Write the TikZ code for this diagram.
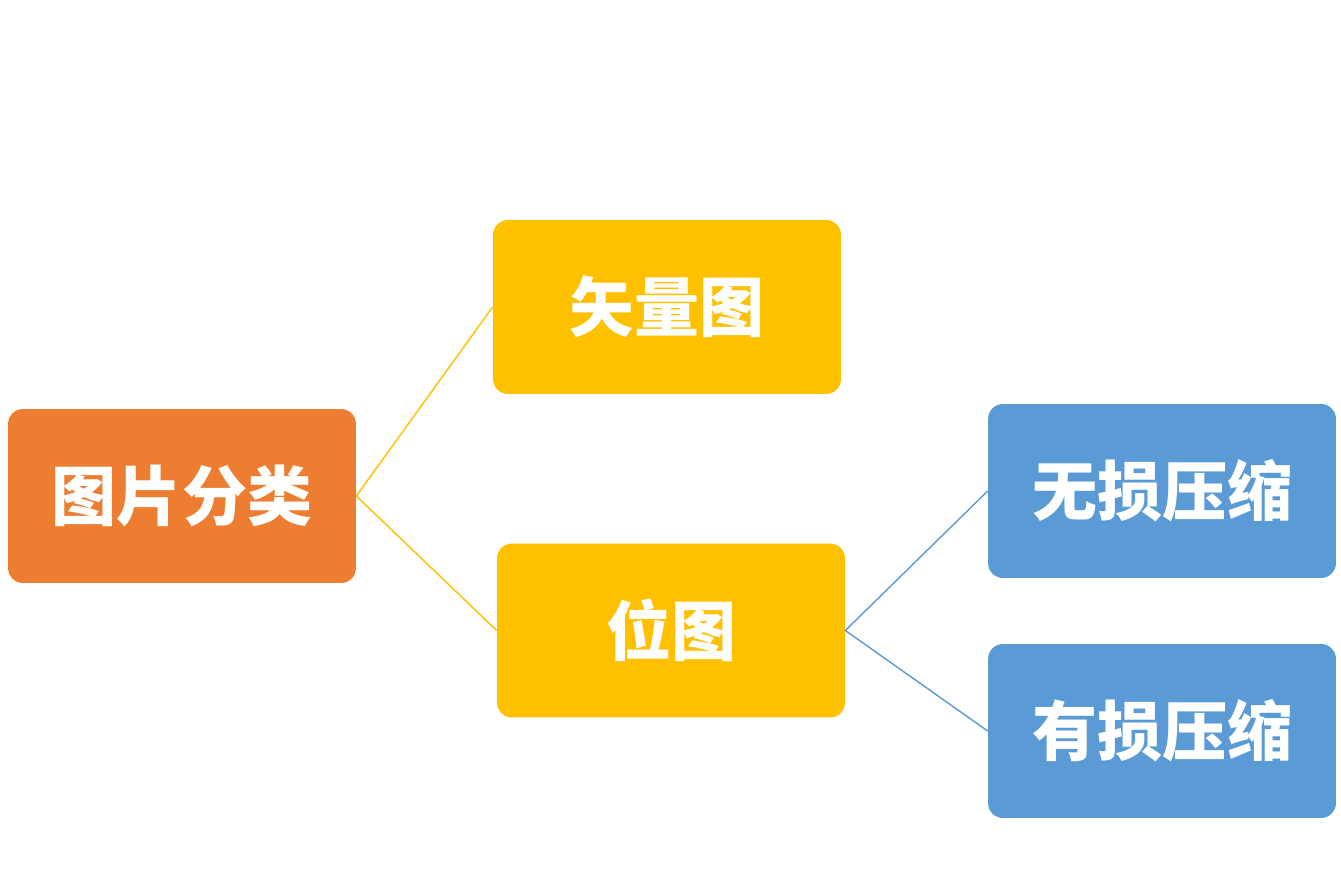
\documentclass[tikz,border=0pt]{standalone}
\usepackage{fontspec}
\newfontfamily\cjk{Noto Sans CJK SC}
\usepackage{tikz}
\definecolor{rootorange}{HTML}{ED7D31}
\definecolor{midgold}{HTML}{FFC000}
\definecolor{leafblue}{HTML}{5B9BD5}
\tikzset{
    catbox/.style={rounded corners=0.3cm, minimum width=6.96cm, minimum height=3.48cm,
        inner sep=0pt, text=white, font=\cjk\bfseries\fontsize{37}{44}\selectfont},
}
\begin{document}
\begin{tikzpicture}[x=0.02cm,y=-0.02cm]
        \useasboundingbox[fill=white] (0,0) rectangle (1341,889);
        % root
        \node[catbox, fill=rootorange] (root) at (182,496) {图片分类};
        % second level
        \node[catbox, fill=midgold] (vector) at (667,307) {矢量图};
        \node[catbox, fill=midgold] (bitmap) at (671,630.5) {位图};
        % third level
        \node[catbox, fill=leafblue] (lossless) at (1162,491) {无损压缩};
        \node[catbox, fill=leafblue] (lossy) at (1162,731) {有损压缩};

        \draw[midgold, thick] (vector.west) -- (root.east) -- (bitmap.west);
        \draw[leafblue, thick] (lossless.west) -- (bitmap.east) -- (lossy.west);
    \end{tikzpicture}
\end{document}
